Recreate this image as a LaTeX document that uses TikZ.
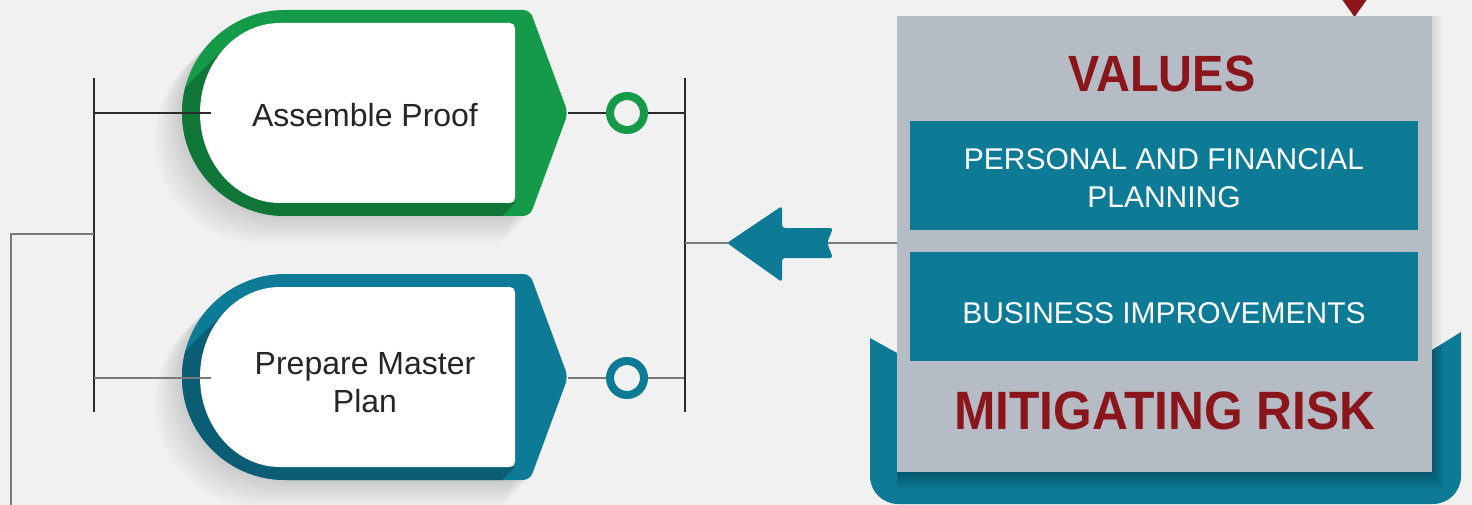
\documentclass[tikz,border=0pt]{standalone}
\usepackage{fontspec}
\setmainfont{Liberation Sans}
\newfontfamily\headfont[FakeStretch=0.92]{Liberation Sans}
\definecolor{bgc}{HTML}{F1F1F1}
\definecolor{grn}{HTML}{149A48}
\definecolor{dgrn}{HTML}{0F7637}
\definecolor{tealc}{HTML}{0D7A96}
\definecolor{dteal}{HTML}{0A5D75}
\definecolor{boxgrey}{HTML}{B5BCC6}
\definecolor{vred}{HTML}{8A161B}
\definecolor{lined}{HTML}{2B2B2B}
\definecolor{lineg}{HTML}{7A7A7A}
\newcommand\outerpath{(400,10) [rounded corners=7] -- (530,10) -- (568,113) -- (530,216) [sharp corners] -- (285,216) arc[start angle=90,end angle=270,radius=103] -- cycle}
\newcommand\innerpath{(400,23) [rounded corners=5] -- (515,23) -- (515,203) [sharp corners] -- (280,203) arc[start angle=90,end angle=270,x radius=80,y radius=90] -- cycle}
\newcommand\darkpath{(226.9,45.7) -- (26.9,245.7) -- (315,403) -- (515,203) -- cycle}
\newcommand\traypath{(870,338) [rounded corners=28] -- (870,504) -- (1461,504) [sharp corners] -- (1461,332) -- (1432,350) -- (897,353) -- cycle}
\tikzset{
  cardtext/.style={font=\fontsize{32}{38}\selectfont, text=black!85, align=center, inner sep=0},
  boxtext/.style={font=\fontsize{30}{38}\selectfont, text=white, align=center, inner sep=0},
  headtext/.style={text=vred, inner sep=0},
  ring/.style={circle, line width=8pt, minimum size=34pt, inner sep=0, fill=bgc},
  darkline/.style={draw=lined, line width=1.2pt},
  greyline/.style={draw=lineg, line width=1.5pt},
  tealbox/.style={fill=tealc},
}
\begin{document}
\begin{tikzpicture}[x=1pt,y=-1pt]
\useasboundingbox (0,0) rectangle (1472,505);
\fill[bgc] (0,0) rectangle (1472,505);

% ---------- card 1 (green) and card 2 (teal)
\foreach \sh/\main/\dark in {0/grn/dgrn, 264/tealc/dteal}{
  \begin{scope}[yshift=-\sh pt]
    % soft background shadow
    \foreach \d in {3,6,...,27}{
      \fill[black, opacity=0.014, shift={(-\d,\d)}] \outerpath;
    }
    \fill[\main] \outerpath;
    \begin{scope}
      \clip \outerpath;
      \fill[\dark] \darkpath;
      \fill[\dark] \innerpath;
    \end{scope}
    \fill[white] \innerpath;
  \end{scope}
}
\node[cardtext, anchor=base] (t1) at (365,127) {Assemble Proof};
\node[cardtext] (t2) at (365,383) {Prepare Master\\Plan};

\coordinate (tip1) at (568,113);
\coordinate (tip2) at (568,378);
\coordinate (lb1) at (94,113);
\coordinate (lb2) at (94,378);
\coordinate (le1) at (211,113);
\coordinate (le2) at (211,378);
\coordinate (lt) at (94,78);
\coordinate (lbot) at (94,412);
\coordinate (lm) at (94,234);
\coordinate (lc) at (11,234);
\coordinate (ld) at (11,505);
\coordinate (rt) at (685,78);
\coordinate (rbot) at (685,412);
\coordinate (r1) at (685,113);
\coordinate (r2) at (685,378);
\coordinate (rm) at (685,243);
\coordinate (bx) at (897,243);

% left bus
\draw[darkline] (lt) -- (lbot);
\draw[darkline] (lb1) -- (le1);
\draw[greyline, line width=1.3pt] (lb2) -- (le2);
\draw[greyline] (lm) -- (lc) -- (ld);

% right bus
\draw[darkline] (tip1) -- (r1);
\draw[greyline, line width=1.3pt] (tip2) -- (r2);
\draw[darkline] (rt) -- (rbot);
\draw[greyline] (rm) -- (bx);

\node[ring, draw=grn] (c1) at (627,113) {};
\node[ring, draw=tealc] (c2) at (627,378) {};

% arrow
\fill[tealc, rounded corners=3] (727,243) -- (782,206) -- (782,228) -- (833,228) -- (827,243) -- (833,258) -- (782,258) -- (782,282) -- cycle;

% grey box shadow on background (right side)
\foreach \d in {2,4,...,10}{
  \fill[black, opacity=0.02] (897,16) rectangle (1432+\d,350);
}
% tray
\fill[tealc] \traypath;
\begin{scope}
  \clip \traypath;
  \foreach \d in {2,4,...,16}{
    \fill[black, opacity=0.035] (897,16) rectangle (1432+0.7*\d,472+\d);
  }
\end{scope}
% red marker
\fill[vred] (1341,-2) -- (1368,-2) -- (1354.5,17) -- cycle;
% grey box
\fill[boxgrey] (897,16) rectangle (1432,472);
\fill[tealbox] (910,121) rectangle (1418,230);
\fill[tealbox] (910,252) rectangle (1418,361);

\node[headtext, anchor=base, font=\headfont\bfseries\fontsize{51}{60}\selectfont] (val) at (1162,92) {VALUES};
\node[boxtext] (p1) at (1164,178.5) {PERSONAL AND FINANCIAL\\PLANNING};
\node[boxtext, anchor=base] (p2) at (1164,323) {BUSINESS IMPROVEMENTS};
\node[headtext, anchor=base, font=\headfont\bfseries\fontsize{54}{60}\selectfont] (mit) at (1165,429) {MITIGATING RISK};
\end{tikzpicture}
\end{document}
